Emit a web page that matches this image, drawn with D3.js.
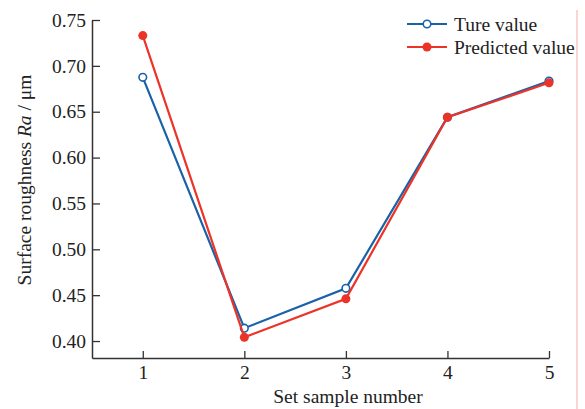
<!DOCTYPE html>
<html><head><meta charset="utf-8">
<script src="https://cdn.jsdelivr.net/npm/d3@7"></script>
<style>body{margin:0;background:#fff}svg{display:block}text{font-family:"Liberation Serif","Times New Roman",serif;fill:#222}</style>
</head><body><svg id="c" width="585" height="409"></svg>
<script>
const samples = [1, 2, 3, 4, 5];
const trueValues = [0.6875, 0.414, 0.4575, 0.644, 0.6835];
const predictedValues = [0.733, 0.404, 0.446, 0.644, 0.6815];
const yTicks = [0.40, 0.45, 0.50, 0.55, 0.60, 0.65, 0.70, 0.75];
const seriesNames = ["Ture value", "Predicted value"];

const svg = d3.select("#c");
const x = d3.scaleLinear().domain([0.5, 5]).range([92, 549]);
const y = d3.scaleLinear().domain([0.3815, 0.75]).range([358, 20]);
const fs = "19.5px";

// stray vertical line at right
svg.append("line").attr("x1",577).attr("x2",577).attr("y1",10).attr("y2",409)
  .attr("stroke","#f5aaa2").attr("stroke-width",1);

// axes
const yAxis = d3.axisLeft(y).tickValues(yTicks).tickFormat(d3.format(".2f")).tickSizeInner(-8).tickSizeOuter(0).tickPadding(6);
const gy = svg.append("g").attr("transform","translate(92,0)").call(yAxis);
const xAxis = d3.axisBottom(x).tickValues(samples).tickFormat(d3.format("d")).tickSizeInner(-7).tickSizeOuter(0).tickPadding(7);
const gx = svg.append("g").attr("transform","translate(0,358)").call(xAxis);
[gx, gy].forEach(g => {
  g.select(".domain").attr("stroke","#333").attr("stroke-width",1.5);
  g.selectAll(".tick line").attr("stroke","#333").attr("stroke-width",1.3);
  g.selectAll(".tick text").style("font-size",fs).style("font-family","Liberation Serif").attr("fill","#222");
});
gx.selectAll(".tick text").attr("dy","0.71em");

// axis titles
svg.append("text").attr("x",348).attr("y",403).attr("text-anchor","middle").style("font-size",fs).text("Set sample number");
const yl = svg.append("text").attr("transform","translate(31,180) rotate(-90)").attr("text-anchor","middle").style("font-size",fs);
yl.append("tspan").text("Surface roughness ");
yl.append("tspan").style("font-style","italic").text("Ra");
yl.append("tspan").text(" / μm");

const blue = "#1a62a8", red = "#ec3328";
const line = d3.line().x((d,i)=>x(samples[i])).y(d=>y(d));

// true series
svg.append("path").datum(trueValues).attr("d",line).attr("fill","none").attr("stroke",blue).attr("stroke-width",2.2);
svg.selectAll(".tm").data(trueValues).join("circle").attr("cx",(d,i)=>x(samples[i])).attr("cy",d=>y(d))
  .attr("r",3.8).attr("fill","#fff").attr("stroke",blue).attr("stroke-width",1.6);
// predicted series
svg.append("path").datum(predictedValues).attr("d",line).attr("fill","none").attr("stroke",red).attr("stroke-width",2.2);
svg.selectAll(".pm").data(predictedValues).join("circle").attr("cx",(d,i)=>x(samples[i])).attr("cy",d=>y(d))
  .attr("r",4.5).attr("fill",red);

// legend
const leg = [{c:blue, open:true, y:24},{c:red, open:false, y:47}];
leg.forEach((l,i)=>{
  svg.append("line").attr("x1",407).attr("x2",447).attr("y1",l.y).attr("y2",l.y).attr("stroke",l.c).attr("stroke-width",2.2);
  svg.append("circle").attr("cx",427).attr("cy",l.y).attr("r",l.open?3.8:4.5)
    .attr("fill",l.open?"#fff":l.c).attr("stroke",l.open?l.c:"none").attr("stroke-width",1.6);
  svg.append("text").attr("x",454).attr("y",l.y+6.5).style("font-size",fs).text(seriesNames[i]);
});
</script></body></html>
